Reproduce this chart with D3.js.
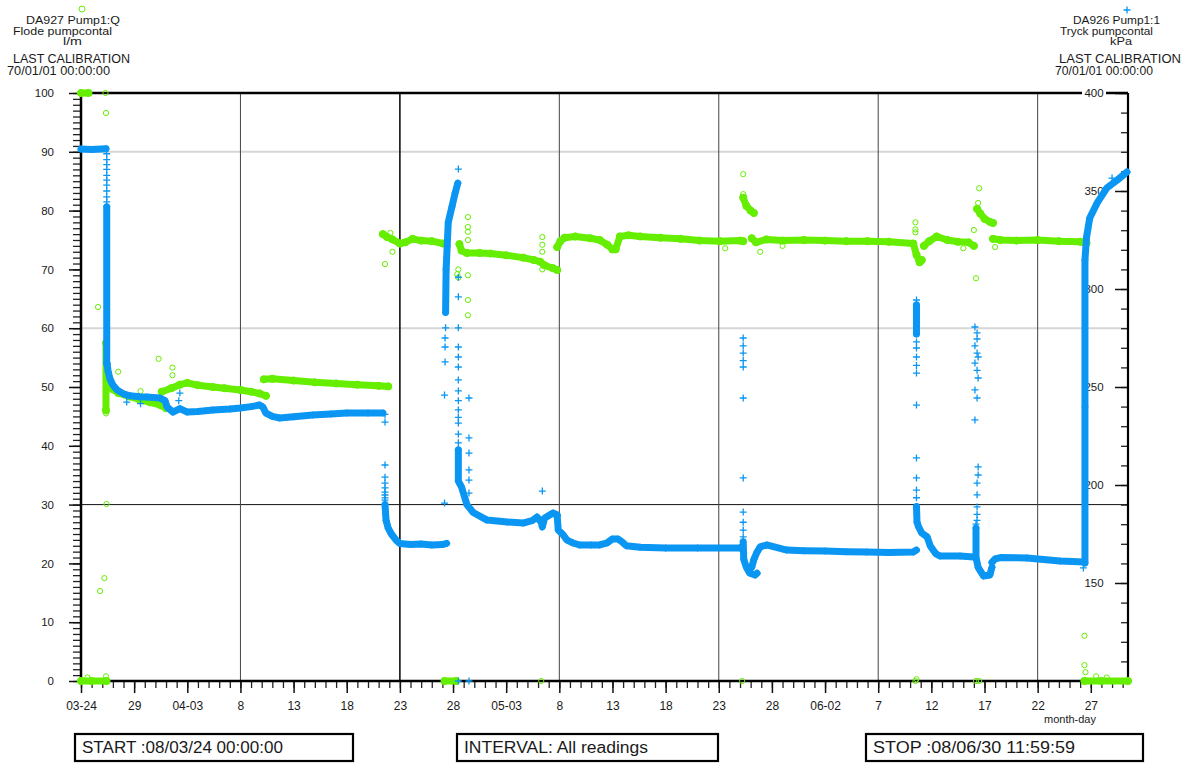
<!DOCTYPE html>
<html lang="en">
<head>
<meta charset="UTF-8" />
<title>DA927 / DA926 Pump1</title>
<script src="https://d3js.org/d3.v7.min.js"></script>
<style>
  body { margin: 0; background: #fff; font-family: "Liberation Sans", Arial, sans-serif; }
  svg { display: block; }
  text { fill: #1a1a1a; }
</style>
</head>
<body>
<svg id="chart" width="1190" height="763"></svg>
<script>
// time axis runs from START to STOP, data given as days after 08-03-24 00:00
const startMs = Date.UTC(2008, 2, 24);
const stopMs = Date.UTC(2008, 5, 30, 12);
const toDate = (d) => new Date(startMs + d * 864e5);

const xTickLabels = ["03-24", "29", "04-03", "8", "13", "18", "23", "28", "05-03", "8",
  "13", "18", "23", "28", "06-02", "7", "12", "17", "22", "27"];
const gridDays = [15, 30, 45, 60, 75, 90];
const flowTicks = [0, 10, 20, 30, 40, 50, 60, 70, 80, 90, 100];
const pressTicks = [150, 200, 250, 300, 350, 400];

// Flode pumpcontal (l/m) - dense stretches of readings
const flowBands = [
  [[0, 100], [0.7, 100]],
  [[0, 0], [1, 0], [2.4, 0]],
  [[2.35, 57.5], [2.35, 46]],
  [[2.45, 50.5], [3, 49.6], [3.5, 49], [4.5, 48.4], [5.5, 47.9], [6.5, 47.4], [7.5, 46.9], [8, 46.4]],
  [[7.6, 49.2], [8.5, 49.8], [9.3, 50.4], [10, 50.7], [11, 50.3], [12.4, 50], [13.5, 49.8], [15, 49.5], [16, 49.2], [16.8, 48.9], [17.4, 48.5]],
  [[17.2, 51.3], [18, 51.4], [20, 51.1], [22, 50.8], [24, 50.6], [26, 50.4], [28, 50.2], [28.9, 50.1]],
  [[28.4, 76], [28.8, 75.5], [29.3, 75.1], [30, 74.4], [30.5, 74.6], [31.2, 75.2], [32, 74.9], [33, 74.8], [34.05, 74.4]],
  [[34.2, 0], [35.3, 0]],
  [[35.6, 74.3], [35.8, 73.2], [36.3, 72.8], [37.5, 72.8], [38.5, 72.7], [40, 72.4], [41.6, 72], [42.6, 71.6], [43.2, 71.3], [43.6, 70.7], [44.4, 70.2], [44.8, 69.9]],
  [[44.8, 73.8], [45.1, 74.8], [45.5, 75.4], [46.5, 75.6], [47.9, 75.3], [48.8, 75], [49.5, 74.2], [50, 73.4], [50.3, 73.4], [50.7, 75.6], [51.5, 75.8], [52.6, 75.6], [54.5, 75.4], [56.4, 75.2], [58.2, 74.9], [60.1, 74.8], [62, 74.9], [62.3, 74.8]],
  [[62.3, 82.2], [62.6, 80.8], [63, 80], [63.3, 79.6]],
  [[63.1, 75.3], [63.5, 74.6], [64.5, 75.1], [66, 74.9], [68, 75], [70, 74.9], [72, 74.8], [74, 74.8], [76, 74.7], [78.3, 74.4], [78.6, 72.5], [78.9, 71.2], [79.1, 71.6]],
  [[79.3, 74], [79.8, 74.8], [80.5, 75.6], [81.5, 75], [82.5, 74.7], [83.5, 74.6], [84, 74]],
  [[84.3, 80.3], [84.6, 79.5], [85, 78.6], [85.5, 78.1], [85.8, 77.9]],
  [[85.8, 75.2], [86.5, 75], [88, 74.9], [90, 75], [92, 74.8], [94, 74.7], [94.6, 74.5]],
  [[94.4, 0], [96, 0], [98.5, 0]]
];

// Flode pumpcontal - single stray readings
const flowPoints = [
  [2.3, 100], [2.35, 96.6], [1.6, 63.6], [2.4, 30.1], [2.2, 17.5], [1.8, 15.3], [2.35, 0.8], [0.6, 0.6],
  [3.5, 52.6], [5.6, 49.3], [7.3, 54.8], [8.6, 52], [8.6, 53.3], [2.35, 52.5], [2.35, 48], [2.35, 45.5],
  [28.6, 70.9], [29.3, 73], [29.1, 76.2],
  [35.5, 70], [35.4, 69.2], [35.5, 68.6], [36.4, 78.9], [36.4, 77.2], [36.4, 76.4], [36.4, 75],
  [36.4, 69], [36.4, 64.8], [36.4, 62.2],
  [43.4, 75.5], [43.4, 74.2], [43.4, 73], [43.4, 70], [43.3, 0],
  [62.3, 86.2], [62.3, 82.8], [62.2, 0], [60.6, 73.6], [63.9, 73], [66, 74],
  [78.5, 78], [78.5, 76.8], [78.5, 76.3], [78.5, 0], [78.6, 0.3],
  [84.5, 83.8], [84.4, 81.3], [84.2, 68.5], [84, 76.7], [84.2, 0], [84.5, 0], [83, 73.6], [86, 73.8],
  [94.4, 7.7], [94.4, 2.7], [94.5, 1.5], [95.5, 0.8], [96.5, 0.6]
];

// Tryck pumpcontal (kPa) - dense stretches of readings
const pressureBands = [
  [[0, 371.4], [1, 371.2], [2.35, 371.6]],
  [[2.42, 342], [2.42, 262]],
  [[2.45, 262], [2.55, 258], [2.73, 254], [3, 251], [3.4, 248.5], [4, 246.5], [4.6, 245.5], [5.5, 245], [6.2, 244.9], [7.4, 244.4], [7.9, 243], [8.1, 239.8], [8.65, 237.2], [9.3, 239], [10, 237.2], [11, 237.5], [12.4, 238.3], [14, 238.8], [15, 239.3], [16, 240], [16.8, 240.8], [17.1, 239.8], [17.4, 236.7], [18, 235], [18.7, 234.2], [20, 234.8], [21.8, 235.7], [23.5, 236.2], [25, 236.7], [27, 236.7], [28.4, 236.7]],
  [[28.6, 190], [28.7, 182], [28.9, 178], [29.2, 175], [29.7, 171.5], [30, 170.2], [31, 169.6], [32, 169.9], [33, 169.4], [34, 169.6], [34.4, 170.2]],
  [[34.3, 288], [34.35, 310], [34.45, 322], [34.55, 334], [34.9, 342], [35.2, 349], [35.45, 354]],
  [[35.5, 218], [35.5, 202], [35.8, 199], [36.3, 190], [36.9, 186], [38.2, 182.1], [40.1, 181.1], [41.6, 180.6], [42.5, 182], [42.9, 183.7], [43.3, 181], [43.4, 178.6], [43.6, 183], [44.4, 185.7], [44.8, 184.7]],
  [[44.8, 184], [44.9, 177], [45.3, 175], [45.7, 172], [46.3, 170.4], [46.9, 169.4], [48, 169.4], [48.8, 169.4], [49.5, 170.5], [50, 172.5], [50.5, 172.5], [50.9, 171], [51.3, 169], [52.6, 168.2], [55, 167.9], [58, 167.9], [60, 167.9], [62, 167.9], [62.2, 168.6]],
  [[62.3, 171], [62.35, 162], [62.6, 158], [62.9, 155.1], [63.4, 154.1], [63.6, 155]],
  [[63.1, 158], [63.3, 162], [63.6, 165.8], [63.9, 168.4], [64.5, 169.4], [66.4, 166.8], [68, 166.5], [70, 166.3], [72, 166], [73.9, 165.8], [76, 165.6], [78.3, 165.8], [78.6, 166.8]],
  [[78.6, 292], [78.6, 277]],
  [[78.6, 189], [78.65, 181], [78.8, 178.6], [79.1, 175.5], [79.6, 173.5], [79.9, 168.9], [80.4, 165], [80.8, 163.8], [82.7, 163.8], [84, 163.3]],
  [[84.2, 178], [84.2, 163], [84.4, 158], [84.9, 153.6], [85.5, 154.1], [85.7, 158]],
  [[85.7, 160.5], [86, 162.3], [86.5, 163], [89, 162.8], [92.1, 161.2], [94.4, 160.7]],
  [[94.45, 160.2], [94.45, 240], [94.45, 314.8], [94.6, 326.5], [94.9, 336.2], [95.6, 343.9], [96.5, 351.5], [97.5, 355.6], [98.4, 359.7]]
];

// Tryck pumpcontal - single stray readings
const pressurePoints = [
  [2.42, 369], [2.42, 366], [2.42, 363.5], [2.42, 361], [2.42, 358], [2.42, 355.5], [2.42, 353], [2.42, 350], [2.42, 347], [2.42, 344.5],
  [4.3, 242.3], [9.3, 246.9], [9.2, 243], [5.6, 241.5],
  [28.6, 236], [28.6, 232.1], [28.6, 210.2], [28.6, 204], [28.6, 201], [28.6, 198.5], [28.6, 196.4], [28.6, 194.9], [28.6, 193.4], [28.6, 192.3],
  [34.2, 190.8], [34.2, 245.9], [34.25, 262.8], [34.25, 270.4], [34.25, 275], [34.3, 280.2],
  [35.5, 361.2],
  [35.5, 306], [35.5, 296], [35.5, 280.2], [35.5, 270.4], [35.5, 265.3], [35.5, 260.2], [35.5, 253.6], [35.5, 248], [35.5, 243],
  [35.5, 238.3], [35.5, 234.5], [35.5, 231.6], [35.5, 226], [35.5, 221.5],
  [36.5, 244.4], [36.5, 224], [36.5, 216.3], [36.5, 207.7], [36.5, 202.5], [36.5, 195.9],
  [43.4, 196.9], [35.5, 100], [36.5, 100],
  [62.3, 275], [62.3, 271], [62.3, 267.3], [62.3, 263.5], [62.3, 260.2], [62.3, 244.4], [62.3, 203.6], [62.3, 186.2], [62.3, 181], [62.3, 177], [62.3, 173.5],
  [78.6, 294.4], [78.6, 273], [78.6, 269.9], [78.6, 265.3], [78.6, 261], [78.6, 257.1], [78.6, 240.8], [78.6, 213.8], [78.6, 203.6], [78.6, 197.4], [78.6, 193.5],
  [84.1, 280.6], [84.3, 277.6], [84.3, 274.5], [84.1, 271], [84.3, 267.3], [84.4, 265.3], [84.1, 262.2], [84.3, 258.5], [84.4, 254.6],
  [84.1, 248.5], [84.3, 244.4], [84.1, 233.2], [84.4, 209.2], [84.4, 205.1], [84.3, 201], [84.3, 195], [84.3, 188.8], [84.3, 185], [84.3, 182], [84.2, 180],
  [94.3, 157.7], [97, 356.6]
];

const green = "#66ee00";
const blue = "#0a96f2";
const plotL = 81, plotR = 1128, plotT = 93, plotB = 681;

const svg = d3.select("#chart");

const x = d3.scaleUtc().domain([new Date(startMs), new Date(stopMs)]).range([plotL, plotR]);
const yFlow = d3.scaleLinear().domain([0, 100]).range([plotB, plotT]);
const yPress = d3.scaleLinear().domain([100, 400]).range([plotB, plotT]);

// grid
const grid = svg.append("g");
grid.selectAll(".hg").data([90, 60]).join("line")
  .attr("x1", plotL).attr("x2", plotR)
  .attr("y1", (d) => yFlow(d)).attr("y2", (d) => yFlow(d))
  .attr("stroke", "#d6d6d6").attr("stroke-width", 2);
grid.append("line")
  .attr("x1", plotL).attr("x2", plotR)
  .attr("y1", yFlow(30)).attr("y2", yFlow(30))
  .attr("stroke", "#111").attr("stroke-width", 1);
grid.selectAll(".vg").data(gridDays).join("line")
  .attr("x1", (d) => x(toDate(d))).attr("x2", (d) => x(toDate(d)))
  .attr("y1", plotT).attr("y2", plotB)
  .attr("stroke", (d) => (d === 30 ? "#111" : "#444"))
  .attr("stroke-width", (d) => (d === 30 ? 1.6 : 1));

// left axis
svg.append("g").attr("transform", `translate(${plotL},0)`)
  .call(d3.axisLeft(yFlow).tickValues(d3.range(0, 101, 1)).tickSize(8).tickFormat(""))
  .call((g) => g.select(".domain").remove())
  .call((g) => g.selectAll("line").attr("stroke", "#222").attr("stroke-width", 1.3));
svg.append("g").attr("transform", `translate(${plotL},0)`)
  .call(d3.axisLeft(yFlow).tickValues(flowTicks).tickSize(12).tickPadding(15))
  .call((g) => g.select(".domain").remove())
  .call((g) => g.selectAll("line").attr("stroke", "#111").attr("stroke-width", 1.5))
  .call((g) => g.selectAll("text").attr("font-size", 11.5).attr("font-family", "Liberation Sans, Arial").attr("fill", "#222"));

// right axis (ticks point inward)
svg.append("g").attr("transform", `translate(${plotR},0)`)
  .call(d3.axisLeft(yPress).tickValues(d3.range(100, 401, 10)).tickSize(7).tickFormat(""))
  .call((g) => g.select(".domain").remove())
  .call((g) => g.selectAll("line").attr("stroke", "#222").attr("stroke-width", 1.3));
svg.append("g").attr("transform", `translate(${plotR},0)`)
  .call(d3.axisLeft(yPress).tickValues(pressTicks).tickSize(13).tickFormat(""))
  .call((g) => g.select(".domain").remove())
  .call((g) => g.selectAll("line").attr("stroke", "#111").attr("stroke-width", 1.5));

// bottom axis
const majorDates = xTickLabels.map((_, i) => toDate(i * 5));
svg.append("g").attr("transform", `translate(0,${plotB})`)
  .call(d3.axisBottom(x).ticks(d3.utcDay.every(1)).tickSize(7).tickFormat(""))
  .call((g) => g.select(".domain").remove())
  .call((g) => g.selectAll("line").attr("stroke", "#222").attr("stroke-width", 1.3));
svg.append("g").attr("transform", `translate(0,${plotB})`)
  .call(d3.axisBottom(x).tickValues(majorDates).tickSize(12).tickPadding(8).tickFormat((d, i) => xTickLabels[i]))
  .call((g) => g.select(".domain").remove())
  .call((g) => g.selectAll("line").attr("stroke", "#111").attr("stroke-width", 1.5))
  .call((g) => g.selectAll("text").attr("font-size", 12).attr("font-family", "Liberation Sans, Arial").attr("fill", "#222"));

svg.append("text").attr("x", 1070).attr("y", 723).attr("text-anchor", "middle")
  .attr("font-size", 11).text("month-day");

// frame
const frame = svg.append("g").attr("stroke", "#000").attr("fill", "none");
frame.append("line").attr("x1", plotL).attr("x2", plotR).attr("y1", plotT).attr("y2", plotT).attr("stroke-width", 2.5);
frame.append("line").attr("x1", plotL).attr("x2", plotR).attr("y1", plotB).attr("y2", plotB).attr("stroke-width", 2.5);
frame.append("line").attr("x1", plotL).attr("x2", plotL).attr("y1", plotT).attr("y2", plotB).attr("stroke-width", 2.5);
frame.append("line").attr("x1", plotR).attr("x2", plotR).attr("y1", plotT).attr("y2", plotB).attr("stroke-width", 2.2);

// right axis labels sit inside the plot on a white patch
const rLab = svg.append("g");
rLab.selectAll("rect").data(pressTicks).join("rect")
  .attr("x", 1082).attr("y", (d) => yPress(d) - 6).attr("width", 24).attr("height", 12)
  .attr("fill", "#fff");
rLab.selectAll("text").data(pressTicks).join("text")
  .attr("x", 1094).attr("y", (d) => yPress(d) + 4).attr("text-anchor", "middle")
  .attr("font-size", 11.5).attr("fill", "#222").text((d) => d);

// data
const flowLine = d3.line().x((d) => x(toDate(d[0]))).y((d) => yFlow(d[1]));
const pressLine = d3.line().x((d) => x(toDate(d[0]))).y((d) => yPress(d[1]));

const gFlow = svg.append("g");
gFlow.selectAll("path").data(flowBands).join("path")
  .attr("d", flowLine).attr("fill", "none").attr("stroke", green)
  .attr("stroke-width", 7).attr("stroke-linecap", "round").attr("stroke-linejoin", "round");
gFlow.selectAll("circle.b").data(flowBands.flat()).join("circle").attr("class", "b")
  .attr("cx", (d) => x(toDate(d[0]))).attr("cy", (d) => yFlow(d[1])).attr("r", 3.6)
  .attr("fill", green).attr("stroke", green).attr("stroke-width", 1);
gFlow.selectAll("circle.p").data(flowPoints).join("circle").attr("class", "p")
  .attr("cx", (d) => x(toDate(d[0]))).attr("cy", (d) => yFlow(d[1])).attr("r", 2.6)
  .attr("fill", "none").attr("stroke", green).attr("stroke-width", 1);

const plus = "M-3.5,0H3.5M0,-3.5V3.5";
const gPress = svg.append("g");
gPress.selectAll("path.band").data(pressureBands).join("path").attr("class", "band")
  .attr("d", pressLine).attr("fill", "none").attr("stroke", blue)
  .attr("stroke-width", 7).attr("stroke-linecap", "round").attr("stroke-linejoin", "round");
gPress.selectAll("path.pt").data(pressureBands.flat().concat(pressurePoints)).join("path").attr("class", "pt")
  .attr("transform", (d) => `translate(${x(toDate(d[0]))},${yPress(d[1])})`)
  .attr("d", plus).attr("stroke", blue).attr("stroke-width", 1.3).attr("fill", "none");

// headers
const hdr = svg.append("g").attr("font-size", 11);
const hText = (tx, ty, anchor, len, label, size) =>
  hdr.append("text").attr("x", tx).attr("y", ty).attr("text-anchor", anchor)
    .attr("font-size", size || 11).attr("textLength", len).attr("lengthAdjust", "spacingAndGlyphs").text(label);

hdr.append("circle").attr("cx", 82).attr("cy", 9).attr("r", 3).attr("fill", "none").attr("stroke", green);
hText(26, 24, "start", 94, "DA927 Pump1:Q");
hText(13, 35, "start", 99, "Flode pumpcontal");
hText(63, 45, "start", 19, "l/m");
hText(13, 63, "start", 117, "LAST CALIBRATION", 12.5);
hText(7, 75, "start", 103, "70/01/01 00:00:00", 12);

hdr.append("path").attr("transform", "translate(1127,10)").attr("d", plus).attr("stroke", blue).attr("stroke-width", 1.3);
hText(1073, 24, "start", 87, "DA926 Pump1:1");
hText(1060, 35, "start", 93, "Tryck pumpcontal");
hText(1110, 45, "start", 22, "kPa");
hText(1059, 63, "start", 122, "LAST CALIBRATION", 12.5);
hText(1055, 75, "start", 98, "70/01/01 00:00:00", 12);

// footer boxes
const footer = [
  { label: "START :08/03/24 00:00:00", x0: 75, x1: 353, w: 201 },
  { label: "INTERVAL: All readings", x0: 457, x1: 718, w: 184 },
  { label: "STOP :08/06/30 11:59:59", x0: 866, x1: 1143, w: 202 }
];
const fb = svg.append("g").selectAll("g").data(footer).join("g");
fb.append("rect").attr("x", (d) => d.x0).attr("y", 734).attr("width", (d) => d.x1 - d.x0).attr("height", 27)
  .attr("fill", "none").attr("stroke", "#000").attr("stroke-width", 2.2);
fb.append("text").attr("x", (d) => d.x0 + 7).attr("y", 753).attr("font-size", 16)
  .attr("textLength", (d) => d.w).attr("lengthAdjust", "spacingAndGlyphs").text((d) => d.label);
</script>
</body>
</html>
